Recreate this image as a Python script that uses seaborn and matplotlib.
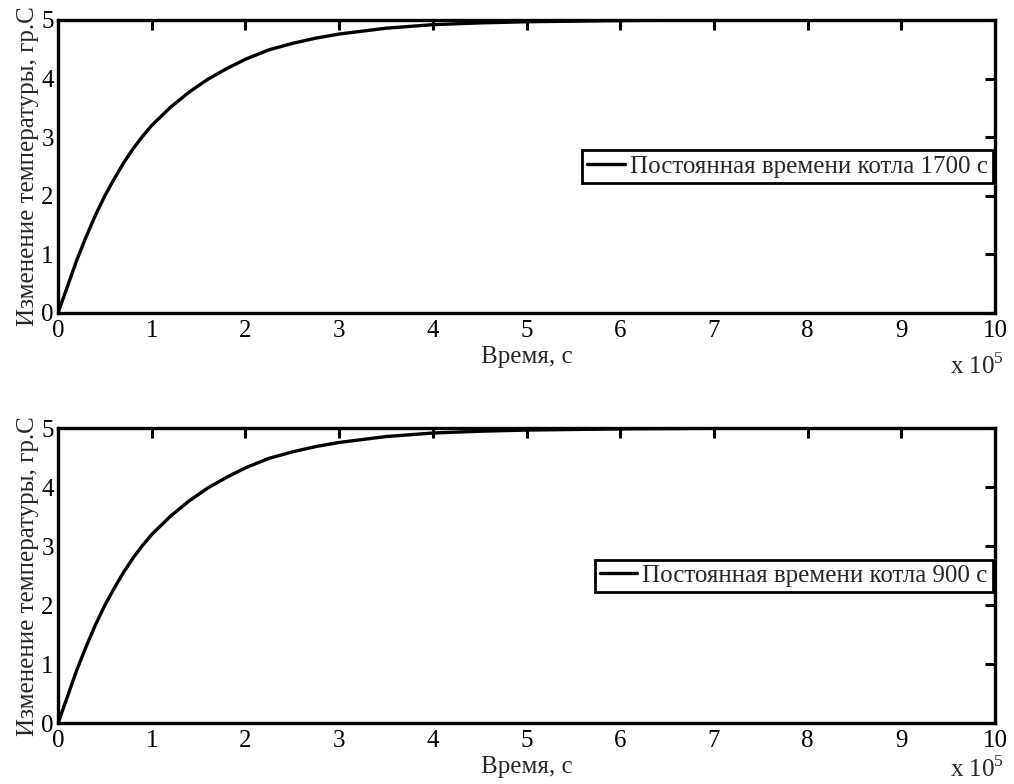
import matplotlib
matplotlib.use("Agg")
import matplotlib.pyplot as plt
import seaborn as sns
import pandas as pd
from matplotlib.ticker import FuncFormatter, MultipleLocator

sns.set_style("white")
plt.rcParams["font.family"] = ["Liberation Serif", "DejaVu Serif"]
plt.rcParams["mathtext.fontset"] = "custom"
plt.rcParams["mathtext.rm"] = "Liberation Serif"

# Time, seconds
time_s = [0, 10000, 20000, 30000, 40000, 50000, 60000, 70000, 80000, 90000,
          100000, 120000, 140000, 160000, 180000, 200000, 225000, 250000,
          275000, 300000, 350000, 400000, 450000, 500000, 550000, 600000,
          700000, 800000, 1000000]
# Temperature change, boiler time constant 1700 s
temp_1700 = [0.0, 0.45, 0.90, 1.30, 1.67, 2.00, 2.29, 2.56, 2.80, 3.01,
             3.20, 3.51, 3.77, 3.99, 4.17, 4.33, 4.49, 4.60,
             4.69, 4.76, 4.86, 4.92, 4.95, 4.97, 4.98, 4.99,
             5.0, 5.0, 5.0]
# Temperature change, boiler time constant 900 s
temp_900 = [0.0, 0.45, 0.90, 1.30, 1.67, 2.00, 2.29, 2.56, 2.80, 3.01,
            3.20, 3.51, 3.77, 3.99, 4.17, 4.33, 4.49, 4.60,
            4.69, 4.76, 4.86, 4.92, 4.95, 4.97, 4.98, 4.99,
            5.0, 5.0, 5.0]

labels = ["Постоянная времени котла 1700 с", "Постоянная времени котла 900 с"]
series = [temp_1700, temp_900]

FS = 18

fig = plt.figure(figsize=(10.14, 7.84), dpi=100)
positions = [[0.0572, 0.6008, 0.9241, 0.3737],
             [0.0572, 0.0774, 0.9241, 0.3763]]
# vertical placement of the "x 10^5" scale note under each panel
scale_note_y = [-0.225, -0.199]

for pos, temps, lab, note_y in zip(positions, series, labels, scale_note_y):
    ax = fig.add_axes(pos)
    df = pd.DataFrame({"t": time_s, "T": temps, "label": lab})
    sns.lineplot(data=df, x="t", y="T", hue="label", palette=["black"],
                 linewidth=2.4, ax=ax)
    ax.set_xlim(0, 1000000)
    ax.set_ylim(0, 5)
    ax.xaxis.set_major_locator(MultipleLocator(100000))
    ax.yaxis.set_major_locator(MultipleLocator(1))
    ax.xaxis.set_major_formatter(FuncFormatter(lambda v, p: f"{v / 1e5:g}"))
    for sp in ax.spines.values():
        sp.set_visible(True)
        sp.set_color("black")
        sp.set_linewidth(2.4)
    ax.tick_params(direction="in", length=7, width=2.2, top=True, right=True,
                   labelsize=FS, colors="black")
    ax.tick_params(axis="x", pad=5)
    ax.tick_params(axis="y", pad=3)
    ax.set_xlabel("Время, с", fontsize=FS, labelpad=3)
    ax.set_ylabel("Изменение температуры, гр.С", fontsize=FS, labelpad=2)
    ax.text(1.0096, note_y, r"x 10$^{5}$", transform=ax.transAxes,
            fontsize=FS, ha="right", va="bottom")
    leg = ax.legend(loc="center right", borderaxespad=0.1, fontsize=FS,
                    handlelength=1.5, handletextpad=0.2, borderpad=0.2,
                    fancybox=False, framealpha=1)
    leg.get_frame().set_edgecolor("black")
    leg.get_frame().set_linewidth(2.0)
    for line in leg.get_lines():
        line.set_linewidth(2.4)

fig.savefig("out.png", dpi=100, facecolor="white")
